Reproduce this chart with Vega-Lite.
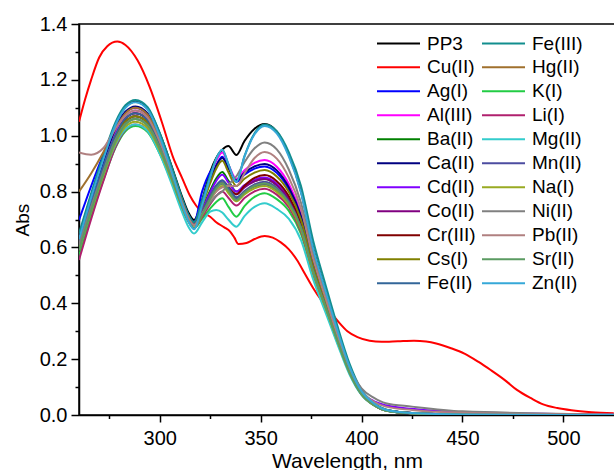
{
"$schema": "https://vega.github.io/schema/vega-lite/v6.json",
"width": 536, "height": 391,
"autosize": {"type": "none"},
"padding": {"left": 79, "top": 24, "right": 0, "bottom": 55},
"config": {"font": "Liberation Sans", "view": {"stroke": "black", "strokeWidth": 1.5}},
"data": {"values": [
{"s":"PP3","w":260,"v":0.640},{"s":"PP3","w":266,"v":0.785},{"s":"PP3","w":272,"v":0.920},{"s":"PP3","w":278,"v":1.040},{"s":"PP3","w":283,"v":1.103},{"s":"PP3","w":288,"v":1.122},{"s":"PP3","w":294,"v":1.097},{"s":"PP3","w":300,"v":1.008},{"s":"PP3","w":306,"v":0.889},{"s":"PP3","w":311,"v":0.783},{"s":"PP3","w":314,"v":0.728},{"s":"PP3","w":317,"v":0.698},{"s":"PP3","w":321,"v":0.770},{"s":"PP3","w":325,"v":0.870},{"s":"PP3","w":328,"v":0.920},{"s":"PP3","w":331,"v":0.950},{"s":"PP3","w":334,"v":0.963},{"s":"PP3","w":338,"v":0.931},{"s":"PP3","w":342,"v":0.981},{"s":"PP3","w":347,"v":1.025},{"s":"PP3","w":352,"v":1.042},{"s":"PP3","w":358,"v":1.015},{"s":"PP3","w":364,"v":0.931},{"s":"PP3","w":370,"v":0.800},{"s":"PP3","w":376,"v":0.600},{"s":"PP3","w":382,"v":0.450},{"s":"PP3","w":388,"v":0.305},{"s":"PP3","w":394,"v":0.175},{"s":"PP3","w":400,"v":0.085},{"s":"PP3","w":406,"v":0.042},{"s":"PP3","w":412,"v":0.019},{"s":"PP3","w":425,"v":0.007},{"s":"PP3","w":450,"v":0.002},{"s":"PP3","w":525,"v":0},
{"s":"Cu(II)","w":260,"v":1.050},{"s":"Cu(II)","w":263,"v":1.130},{"s":"Cu(II)","w":266,"v":1.200},{"s":"Cu(II)","w":270,"v":1.280},{"s":"Cu(II)","w":274,"v":1.320},{"s":"Cu(II)","w":279,"v":1.337},{"s":"Cu(II)","w":283,"v":1.325},{"s":"Cu(II)","w":289,"v":1.270},{"s":"Cu(II)","w":295,"v":1.175},{"s":"Cu(II)","w":301,"v":1.050},{"s":"Cu(II)","w":307,"v":0.915},{"s":"Cu(II)","w":311,"v":0.850},{"s":"Cu(II)","w":315,"v":0.785},{"s":"Cu(II)","w":318,"v":0.750},{"s":"Cu(II)","w":321,"v":0.725},{"s":"Cu(II)","w":325,"v":0.710},{"s":"Cu(II)","w":328,"v":0.690},{"s":"Cu(II)","w":332,"v":0.672},{"s":"Cu(II)","w":335,"v":0.656},{"s":"Cu(II)","w":337,"v":0.635},{"s":"Cu(II)","w":339,"v":0.612},{"s":"Cu(II)","w":343,"v":0.616},{"s":"Cu(II)","w":347,"v":0.630},{"s":"Cu(II)","w":352,"v":0.641},{"s":"Cu(II)","w":356,"v":0.635},{"s":"Cu(II)","w":360,"v":0.618},{"s":"Cu(II)","w":364,"v":0.593},{"s":"Cu(II)","w":368,"v":0.555},{"s":"Cu(II)","w":372,"v":0.505},{"s":"Cu(II)","w":376,"v":0.455},{"s":"Cu(II)","w":380,"v":0.412},{"s":"Cu(II)","w":384,"v":0.376},{"s":"Cu(II)","w":389,"v":0.330},{"s":"Cu(II)","w":393,"v":0.300},{"s":"Cu(II)","w":398,"v":0.279},{"s":"Cu(II)","w":404,"v":0.266},{"s":"Cu(II)","w":410,"v":0.262},{"s":"Cu(II)","w":418,"v":0.264},{"s":"Cu(II)","w":426,"v":0.266},{"s":"Cu(II)","w":432,"v":0.263},{"s":"Cu(II)","w":437,"v":0.256},{"s":"Cu(II)","w":444,"v":0.240},{"s":"Cu(II)","w":451,"v":0.220},{"s":"Cu(II)","w":458,"v":0.190},{"s":"Cu(II)","w":464,"v":0.161},{"s":"Cu(II)","w":471,"v":0.125},{"s":"Cu(II)","w":477,"v":0.090},{"s":"Cu(II)","w":484,"v":0.060},{"s":"Cu(II)","w":490,"v":0.038},{"s":"Cu(II)","w":497,"v":0.025},{"s":"Cu(II)","w":504,"v":0.017},{"s":"Cu(II)","w":514,"v":0.010},{"s":"Cu(II)","w":525,"v":0.006},
{"s":"Ag(I)","w":260,"v":0.698},{"s":"Ag(I)","w":266,"v":0.819},{"s":"Ag(I)","w":272,"v":0.931},{"s":"Ag(I)","w":278,"v":1.032},{"s":"Ag(I)","w":283,"v":1.084},{"s":"Ag(I)","w":288,"v":1.100},{"s":"Ag(I)","w":294,"v":1.075},{"s":"Ag(I)","w":300,"v":0.989},{"s":"Ag(I)","w":306,"v":0.875},{"s":"Ag(I)","w":311,"v":0.772},{"s":"Ag(I)","w":314,"v":0.719},{"s":"Ag(I)","w":317,"v":0.690},{"s":"Ag(I)","w":321,"v":0.800},{"s":"Ag(I)","w":325,"v":0.870},{"s":"Ag(I)","w":328,"v":0.895},{"s":"Ag(I)","w":331,"v":0.925},{"s":"Ag(I)","w":334,"v":0.890},{"s":"Ag(I)","w":338,"v":0.835},{"s":"Ag(I)","w":342,"v":0.860},{"s":"Ag(I)","w":347,"v":0.882},{"s":"Ag(I)","w":352,"v":0.890},{"s":"Ag(I)","w":358,"v":0.867},{"s":"Ag(I)","w":364,"v":0.808},{"s":"Ag(I)","w":370,"v":0.707},{"s":"Ag(I)","w":376,"v":0.539},{"s":"Ag(I)","w":382,"v":0.407},{"s":"Ag(I)","w":388,"v":0.279},{"s":"Ag(I)","w":394,"v":0.160},{"s":"Ag(I)","w":400,"v":0.078},{"s":"Ag(I)","w":406,"v":0.038},{"s":"Ag(I)","w":412,"v":0.017},{"s":"Ag(I)","w":425,"v":0.007},{"s":"Ag(I)","w":450,"v":0.002},{"s":"Ag(I)","w":525,"v":0},
{"s":"Al(III)","w":260,"v":0.620},{"s":"Al(III)","w":266,"v":0.761},{"s":"Al(III)","w":272,"v":0.893},{"s":"Al(III)","w":278,"v":1.010},{"s":"Al(III)","w":283,"v":1.071},{"s":"Al(III)","w":288,"v":1.090},{"s":"Al(III)","w":294,"v":1.066},{"s":"Al(III)","w":300,"v":0.981},{"s":"Al(III)","w":306,"v":0.867},{"s":"Al(III)","w":311,"v":0.766},{"s":"Al(III)","w":314,"v":0.713},{"s":"Al(III)","w":317,"v":0.685},{"s":"Al(III)","w":321,"v":0.762},{"s":"Al(III)","w":325,"v":0.851},{"s":"Al(III)","w":328,"v":0.909},{"s":"Al(III)","w":331,"v":0.940},{"s":"Al(III)","w":334,"v":0.897},{"s":"Al(III)","w":338,"v":0.845},{"s":"Al(III)","w":342,"v":0.876},{"s":"Al(III)","w":347,"v":0.903},{"s":"Al(III)","w":352,"v":0.913},{"s":"Al(III)","w":358,"v":0.889},{"s":"Al(III)","w":364,"v":0.827},{"s":"Al(III)","w":370,"v":0.721},{"s":"Al(III)","w":376,"v":0.548},{"s":"Al(III)","w":382,"v":0.414},{"s":"Al(III)","w":388,"v":0.283},{"s":"Al(III)","w":394,"v":0.162},{"s":"Al(III)","w":400,"v":0.079},{"s":"Al(III)","w":406,"v":0.039},{"s":"Al(III)","w":412,"v":0.017},{"s":"Al(III)","w":425,"v":0.007},{"s":"Al(III)","w":450,"v":0.002},{"s":"Al(III)","w":525,"v":0},
{"s":"Ba(II)","w":260,"v":0.600},{"s":"Ba(II)","w":266,"v":0.741},{"s":"Ba(II)","w":272,"v":0.873},{"s":"Ba(II)","w":278,"v":0.990},{"s":"Ba(II)","w":283,"v":1.051},{"s":"Ba(II)","w":288,"v":1.070},{"s":"Ba(II)","w":294,"v":1.047},{"s":"Ba(II)","w":300,"v":0.965},{"s":"Ba(II)","w":306,"v":0.856},{"s":"Ba(II)","w":311,"v":0.758},{"s":"Ba(II)","w":314,"v":0.707},{"s":"Ba(II)","w":317,"v":0.680},{"s":"Ba(II)","w":321,"v":0.737},{"s":"Ba(II)","w":325,"v":0.804},{"s":"Ba(II)","w":328,"v":0.847},{"s":"Ba(II)","w":331,"v":0.870},{"s":"Ba(II)","w":334,"v":0.839},{"s":"Ba(II)","w":338,"v":0.800},{"s":"Ba(II)","w":342,"v":0.820},{"s":"Ba(II)","w":347,"v":0.838},{"s":"Ba(II)","w":352,"v":0.845},{"s":"Ba(II)","w":358,"v":0.823},{"s":"Ba(II)","w":364,"v":0.772},{"s":"Ba(II)","w":370,"v":0.679},{"s":"Ba(II)","w":376,"v":0.521},{"s":"Ba(II)","w":382,"v":0.395},{"s":"Ba(II)","w":388,"v":0.271},{"s":"Ba(II)","w":394,"v":0.155},{"s":"Ba(II)","w":400,"v":0.076},{"s":"Ba(II)","w":406,"v":0.037},{"s":"Ba(II)","w":412,"v":0.017},{"s":"Ba(II)","w":425,"v":0.006},{"s":"Ba(II)","w":450,"v":0.002},{"s":"Ba(II)","w":525,"v":0},
{"s":"Ca(II)","w":260,"v":0.630},{"s":"Ca(II)","w":266,"v":0.773},{"s":"Ca(II)","w":272,"v":0.906},{"s":"Ca(II)","w":278,"v":1.024},{"s":"Ca(II)","w":283,"v":1.086},{"s":"Ca(II)","w":288,"v":1.105},{"s":"Ca(II)","w":294,"v":1.080},{"s":"Ca(II)","w":300,"v":0.993},{"s":"Ca(II)","w":306,"v":0.877},{"s":"Ca(II)","w":311,"v":0.773},{"s":"Ca(II)","w":314,"v":0.719},{"s":"Ca(II)","w":317,"v":0.690},{"s":"Ca(II)","w":321,"v":0.759},{"s":"Ca(II)","w":325,"v":0.840},{"s":"Ca(II)","w":328,"v":0.892},{"s":"Ca(II)","w":331,"v":0.920},{"s":"Ca(II)","w":334,"v":0.884},{"s":"Ca(II)","w":338,"v":0.840},{"s":"Ca(II)","w":342,"v":0.867},{"s":"Ca(II)","w":347,"v":0.890},{"s":"Ca(II)","w":352,"v":0.899},{"s":"Ca(II)","w":358,"v":0.876},{"s":"Ca(II)","w":364,"v":0.815},{"s":"Ca(II)","w":370,"v":0.713},{"s":"Ca(II)","w":376,"v":0.543},{"s":"Ca(II)","w":382,"v":0.410},{"s":"Ca(II)","w":388,"v":0.280},{"s":"Ca(II)","w":394,"v":0.161},{"s":"Ca(II)","w":400,"v":0.078},{"s":"Ca(II)","w":406,"v":0.038},{"s":"Ca(II)","w":412,"v":0.017},{"s":"Ca(II)","w":425,"v":0.007},{"s":"Ca(II)","w":450,"v":0.002},{"s":"Ca(II)","w":525,"v":0},
{"s":"Cd(II)","w":260,"v":0.610},{"s":"Cd(II)","w":266,"v":0.751},{"s":"Cd(II)","w":272,"v":0.883},{"s":"Cd(II)","w":278,"v":1.000},{"s":"Cd(II)","w":283,"v":1.061},{"s":"Cd(II)","w":288,"v":1.080},{"s":"Cd(II)","w":294,"v":1.056},{"s":"Cd(II)","w":300,"v":0.972},{"s":"Cd(II)","w":306,"v":0.860},{"s":"Cd(II)","w":311,"v":0.760},{"s":"Cd(II)","w":314,"v":0.708},{"s":"Cd(II)","w":317,"v":0.680},{"s":"Cd(II)","w":321,"v":0.734},{"s":"Cd(II)","w":325,"v":0.797},{"s":"Cd(II)","w":328,"v":0.838},{"s":"Cd(II)","w":331,"v":0.860},{"s":"Cd(II)","w":334,"v":0.833},{"s":"Cd(II)","w":338,"v":0.800},{"s":"Cd(II)","w":342,"v":0.823},{"s":"Cd(II)","w":347,"v":0.843},{"s":"Cd(II)","w":352,"v":0.850},{"s":"Cd(II)","w":358,"v":0.828},{"s":"Cd(II)","w":364,"v":0.776},{"s":"Cd(II)","w":370,"v":0.682},{"s":"Cd(II)","w":376,"v":0.523},{"s":"Cd(II)","w":382,"v":0.396},{"s":"Cd(II)","w":388,"v":0.272},{"s":"Cd(II)","w":394,"v":0.156},{"s":"Cd(II)","w":400,"v":0.080},{"s":"Cd(II)","w":406,"v":0.050},{"s":"Cd(II)","w":412,"v":0.035},{"s":"Cd(II)","w":425,"v":0.022},{"s":"Cd(II)","w":450,"v":0.010},{"s":"Cd(II)","w":525,"v":0.002},
{"s":"Co(II)","w":260,"v":0.600},{"s":"Co(II)","w":266,"v":0.741},{"s":"Co(II)","w":272,"v":0.873},{"s":"Co(II)","w":278,"v":0.990},{"s":"Co(II)","w":283,"v":1.051},{"s":"Co(II)","w":288,"v":1.070},{"s":"Co(II)","w":294,"v":1.047},{"s":"Co(II)","w":300,"v":0.965},{"s":"Co(II)","w":306,"v":0.856},{"s":"Co(II)","w":311,"v":0.758},{"s":"Co(II)","w":314,"v":0.707},{"s":"Co(II)","w":317,"v":0.680},{"s":"Co(II)","w":321,"v":0.728},{"s":"Co(II)","w":325,"v":0.784},{"s":"Co(II)","w":328,"v":0.821},{"s":"Co(II)","w":331,"v":0.840},{"s":"Co(II)","w":334,"v":0.818},{"s":"Co(II)","w":338,"v":0.790},{"s":"Co(II)","w":342,"v":0.815},{"s":"Co(II)","w":347,"v":0.837},{"s":"Co(II)","w":352,"v":0.845},{"s":"Co(II)","w":358,"v":0.823},{"s":"Co(II)","w":364,"v":0.772},{"s":"Co(II)","w":370,"v":0.679},{"s":"Co(II)","w":376,"v":0.521},{"s":"Co(II)","w":382,"v":0.395},{"s":"Co(II)","w":388,"v":0.271},{"s":"Co(II)","w":394,"v":0.155},{"s":"Co(II)","w":400,"v":0.076},{"s":"Co(II)","w":406,"v":0.037},{"s":"Co(II)","w":412,"v":0.017},{"s":"Co(II)","w":425,"v":0.006},{"s":"Co(II)","w":450,"v":0.002},{"s":"Co(II)","w":525,"v":0},
{"s":"Cr(III)","w":260,"v":0.600},{"s":"Cr(III)","w":266,"v":0.744},{"s":"Cr(III)","w":272,"v":0.878},{"s":"Cr(III)","w":278,"v":0.998},{"s":"Cr(III)","w":283,"v":1.061},{"s":"Cr(III)","w":288,"v":1.080},{"s":"Cr(III)","w":294,"v":1.056},{"s":"Cr(III)","w":300,"v":0.972},{"s":"Cr(III)","w":306,"v":0.860},{"s":"Cr(III)","w":311,"v":0.760},{"s":"Cr(III)","w":314,"v":0.708},{"s":"Cr(III)","w":317,"v":0.680},{"s":"Cr(III)","w":321,"v":0.725},{"s":"Cr(III)","w":325,"v":0.778},{"s":"Cr(III)","w":328,"v":0.812},{"s":"Cr(III)","w":331,"v":0.830},{"s":"Cr(III)","w":334,"v":0.812},{"s":"Cr(III)","w":338,"v":0.790},{"s":"Cr(III)","w":342,"v":0.821},{"s":"Cr(III)","w":347,"v":0.849},{"s":"Cr(III)","w":352,"v":0.859},{"s":"Cr(III)","w":358,"v":0.837},{"s":"Cr(III)","w":364,"v":0.783},{"s":"Cr(III)","w":370,"v":0.688},{"s":"Cr(III)","w":376,"v":0.526},{"s":"Cr(III)","w":382,"v":0.399},{"s":"Cr(III)","w":388,"v":0.273},{"s":"Cr(III)","w":394,"v":0.157},{"s":"Cr(III)","w":400,"v":0.076},{"s":"Cr(III)","w":406,"v":0.037},{"s":"Cr(III)","w":412,"v":0.017},{"s":"Cr(III)","w":425,"v":0.007},{"s":"Cr(III)","w":450,"v":0.002},{"s":"Cr(III)","w":525,"v":0},
{"s":"Cs(I)","w":260,"v":0.600},{"s":"Cs(I)","w":266,"v":0.741},{"s":"Cs(I)","w":272,"v":0.873},{"s":"Cs(I)","w":278,"v":0.990},{"s":"Cs(I)","w":283,"v":1.051},{"s":"Cs(I)","w":288,"v":1.070},{"s":"Cs(I)","w":294,"v":1.047},{"s":"Cs(I)","w":300,"v":0.965},{"s":"Cs(I)","w":306,"v":0.856},{"s":"Cs(I)","w":311,"v":0.758},{"s":"Cs(I)","w":314,"v":0.707},{"s":"Cs(I)","w":317,"v":0.680},{"s":"Cs(I)","w":321,"v":0.749},{"s":"Cs(I)","w":325,"v":0.830},{"s":"Cs(I)","w":328,"v":0.882},{"s":"Cs(I)","w":331,"v":0.910},{"s":"Cs(I)","w":334,"v":0.870},{"s":"Cs(I)","w":338,"v":0.820},{"s":"Cs(I)","w":342,"v":0.846},{"s":"Cs(I)","w":347,"v":0.868},{"s":"Cs(I)","w":352,"v":0.877},{"s":"Cs(I)","w":358,"v":0.854},{"s":"Cs(I)","w":364,"v":0.798},{"s":"Cs(I)","w":370,"v":0.699},{"s":"Cs(I)","w":376,"v":0.534},{"s":"Cs(I)","w":382,"v":0.404},{"s":"Cs(I)","w":388,"v":0.276},{"s":"Cs(I)","w":394,"v":0.158},{"s":"Cs(I)","w":400,"v":0.077},{"s":"Cs(I)","w":406,"v":0.038},{"s":"Cs(I)","w":412,"v":0.017},{"s":"Cs(I)","w":425,"v":0.007},{"s":"Cs(I)","w":450,"v":0.002},{"s":"Cs(I)","w":525,"v":0},
{"s":"Fe(II)","w":260,"v":0.620},{"s":"Fe(II)","w":266,"v":0.758},{"s":"Fe(II)","w":272,"v":0.887},{"s":"Fe(II)","w":278,"v":1.002},{"s":"Fe(II)","w":283,"v":1.062},{"s":"Fe(II)","w":288,"v":1.080},{"s":"Fe(II)","w":294,"v":1.056},{"s":"Fe(II)","w":300,"v":0.972},{"s":"Fe(II)","w":306,"v":0.860},{"s":"Fe(II)","w":311,"v":0.760},{"s":"Fe(II)","w":314,"v":0.708},{"s":"Fe(II)","w":317,"v":0.680},{"s":"Fe(II)","w":321,"v":0.728},{"s":"Fe(II)","w":325,"v":0.784},{"s":"Fe(II)","w":328,"v":0.821},{"s":"Fe(II)","w":331,"v":0.840},{"s":"Fe(II)","w":334,"v":0.813},{"s":"Fe(II)","w":338,"v":0.780},{"s":"Fe(II)","w":342,"v":0.800},{"s":"Fe(II)","w":347,"v":0.818},{"s":"Fe(II)","w":352,"v":0.825},{"s":"Fe(II)","w":358,"v":0.804},{"s":"Fe(II)","w":364,"v":0.756},{"s":"Fe(II)","w":370,"v":0.667},{"s":"Fe(II)","w":376,"v":0.513},{"s":"Fe(II)","w":382,"v":0.389},{"s":"Fe(II)","w":388,"v":0.267},{"s":"Fe(II)","w":394,"v":0.153},{"s":"Fe(II)","w":400,"v":0.075},{"s":"Fe(II)","w":406,"v":0.036},{"s":"Fe(II)","w":412,"v":0.016},{"s":"Fe(II)","w":425,"v":0.006},{"s":"Fe(II)","w":450,"v":0.002},{"s":"Fe(II)","w":525,"v":0},
{"s":"Fe(III)","w":260,"v":0.650},{"s":"Fe(III)","w":266,"v":0.793},{"s":"Fe(III)","w":272,"v":0.927},{"s":"Fe(III)","w":278,"v":1.047},{"s":"Fe(III)","w":283,"v":1.109},{"s":"Fe(III)","w":288,"v":1.128},{"s":"Fe(III)","w":294,"v":1.102},{"s":"Fe(III)","w":300,"v":1.010},{"s":"Fe(III)","w":306,"v":0.887},{"s":"Fe(III)","w":311,"v":0.778},{"s":"Fe(III)","w":314,"v":0.721},{"s":"Fe(III)","w":317,"v":0.690},{"s":"Fe(III)","w":321,"v":0.768},{"s":"Fe(III)","w":325,"v":0.859},{"s":"Fe(III)","w":328,"v":0.919},{"s":"Fe(III)","w":331,"v":0.950},{"s":"Fe(III)","w":334,"v":0.898},{"s":"Fe(III)","w":338,"v":0.835},{"s":"Fe(III)","w":342,"v":0.927},{"s":"Fe(III)","w":347,"v":1.009},{"s":"Fe(III)","w":352,"v":1.040},{"s":"Fe(III)","w":358,"v":1.016},{"s":"Fe(III)","w":364,"v":0.940},{"s":"Fe(III)","w":370,"v":0.820},{"s":"Fe(III)","w":376,"v":0.625},{"s":"Fe(III)","w":382,"v":0.470},{"s":"Fe(III)","w":388,"v":0.320},{"s":"Fe(III)","w":394,"v":0.185},{"s":"Fe(III)","w":400,"v":0.090},{"s":"Fe(III)","w":406,"v":0.044},{"s":"Fe(III)","w":412,"v":0.020},{"s":"Fe(III)","w":425,"v":0.007},{"s":"Fe(III)","w":450,"v":0.002},{"s":"Fe(III)","w":525,"v":0},
{"s":"Hg(II)","w":260,"v":0.800},{"s":"Hg(II)","w":266,"v":0.865},{"s":"Hg(II)","w":272,"v":0.940},{"s":"Hg(II)","w":278,"v":1.025},{"s":"Hg(II)","w":283,"v":1.080},{"s":"Hg(II)","w":288,"v":1.100},{"s":"Hg(II)","w":294,"v":1.075},{"s":"Hg(II)","w":300,"v":0.987},{"s":"Hg(II)","w":306,"v":0.869},{"s":"Hg(II)","w":311,"v":0.764},{"s":"Hg(II)","w":314,"v":0.709},{"s":"Hg(II)","w":317,"v":0.680},{"s":"Hg(II)","w":321,"v":0.725},{"s":"Hg(II)","w":325,"v":0.778},{"s":"Hg(II)","w":328,"v":0.812},{"s":"Hg(II)","w":331,"v":0.830},{"s":"Hg(II)","w":334,"v":0.803},{"s":"Hg(II)","w":338,"v":0.770},{"s":"Hg(II)","w":342,"v":0.797},{"s":"Hg(II)","w":347,"v":0.821},{"s":"Hg(II)","w":352,"v":0.830},{"s":"Hg(II)","w":358,"v":0.808},{"s":"Hg(II)","w":364,"v":0.760},{"s":"Hg(II)","w":370,"v":0.670},{"s":"Hg(II)","w":376,"v":0.515},{"s":"Hg(II)","w":382,"v":0.391},{"s":"Hg(II)","w":388,"v":0.268},{"s":"Hg(II)","w":394,"v":0.154},{"s":"Hg(II)","w":400,"v":0.075},{"s":"Hg(II)","w":406,"v":0.037},{"s":"Hg(II)","w":412,"v":0.016},{"s":"Hg(II)","w":425,"v":0.006},{"s":"Hg(II)","w":450,"v":0.002},{"s":"Hg(II)","w":525,"v":0},
{"s":"K(I)","w":260,"v":0.570},{"s":"K(I)","w":266,"v":0.710},{"s":"K(I)","w":272,"v":0.840},{"s":"K(I)","w":278,"v":0.956},{"s":"K(I)","w":283,"v":1.016},{"s":"K(I)","w":288,"v":1.035},{"s":"K(I)","w":294,"v":1.013},{"s":"K(I)","w":300,"v":0.936},{"s":"K(I)","w":306,"v":0.834},{"s":"K(I)","w":311,"v":0.743},{"s":"K(I)","w":314,"v":0.696},{"s":"K(I)","w":317,"v":0.670},{"s":"K(I)","w":321,"v":0.702},{"s":"K(I)","w":325,"v":0.739},{"s":"K(I)","w":328,"v":0.763},{"s":"K(I)","w":331,"v":0.776},{"s":"K(I)","w":334,"v":0.746},{"s":"K(I)","w":338,"v":0.710},{"s":"K(I)","w":342,"v":0.748},{"s":"K(I)","w":347,"v":0.781},{"s":"K(I)","w":352,"v":0.794},{"s":"K(I)","w":358,"v":0.773},{"s":"K(I)","w":364,"v":0.731},{"s":"K(I)","w":370,"v":0.648},{"s":"K(I)","w":376,"v":0.500},{"s":"K(I)","w":382,"v":0.381},{"s":"K(I)","w":388,"v":0.262},{"s":"K(I)","w":394,"v":0.150},{"s":"K(I)","w":400,"v":0.073},{"s":"K(I)","w":406,"v":0.036},{"s":"K(I)","w":412,"v":0.016},{"s":"K(I)","w":425,"v":0.006},{"s":"K(I)","w":450,"v":0.002},{"s":"K(I)","w":525,"v":0},
{"s":"Li(I)","w":260,"v":0.555},{"s":"Li(I)","w":266,"v":0.701},{"s":"Li(I)","w":272,"v":0.836},{"s":"Li(I)","w":278,"v":0.958},{"s":"Li(I)","w":283,"v":1.021},{"s":"Li(I)","w":288,"v":1.040},{"s":"Li(I)","w":294,"v":1.018},{"s":"Li(I)","w":300,"v":0.940},{"s":"Li(I)","w":306,"v":0.837},{"s":"Li(I)","w":311,"v":0.744},{"s":"Li(I)","w":314,"v":0.696},{"s":"Li(I)","w":317,"v":0.670},{"s":"Li(I)","w":321,"v":0.709},{"s":"Li(I)","w":325,"v":0.755},{"s":"Li(I)","w":328,"v":0.784},{"s":"Li(I)","w":331,"v":0.800},{"s":"Li(I)","w":334,"v":0.778},{"s":"Li(I)","w":338,"v":0.750},{"s":"Li(I)","w":342,"v":0.777},{"s":"Li(I)","w":347,"v":0.801},{"s":"Li(I)","w":352,"v":0.810},{"s":"Li(I)","w":358,"v":0.789},{"s":"Li(I)","w":364,"v":0.744},{"s":"Li(I)","w":370,"v":0.657},{"s":"Li(I)","w":376,"v":0.507},{"s":"Li(I)","w":382,"v":0.385},{"s":"Li(I)","w":388,"v":0.265},{"s":"Li(I)","w":394,"v":0.152},{"s":"Li(I)","w":400,"v":0.074},{"s":"Li(I)","w":406,"v":0.036},{"s":"Li(I)","w":412,"v":0.016},{"s":"Li(I)","w":425,"v":0.006},{"s":"Li(I)","w":450,"v":0.002},{"s":"Li(I)","w":525,"v":0},
{"s":"Mg(II)","w":260,"v":0.610},{"s":"Mg(II)","w":266,"v":0.739},{"s":"Mg(II)","w":272,"v":0.859},{"s":"Mg(II)","w":278,"v":0.967},{"s":"Mg(II)","w":283,"v":1.023},{"s":"Mg(II)","w":288,"v":1.040},{"s":"Mg(II)","w":294,"v":1.017},{"s":"Mg(II)","w":300,"v":0.935},{"s":"Mg(II)","w":306,"v":0.826},{"s":"Mg(II)","w":311,"v":0.728},{"s":"Mg(II)","w":314,"v":0.677},{"s":"Mg(II)","w":317,"v":0.650},{"s":"Mg(II)","w":321,"v":0.690},{"s":"Mg(II)","w":325,"v":0.728},{"s":"Mg(II)","w":328,"v":0.734},{"s":"Mg(II)","w":331,"v":0.725},{"s":"Mg(II)","w":334,"v":0.700},{"s":"Mg(II)","w":338,"v":0.674},{"s":"Mg(II)","w":342,"v":0.712},{"s":"Mg(II)","w":347,"v":0.745},{"s":"Mg(II)","w":352,"v":0.758},{"s":"Mg(II)","w":358,"v":0.738},{"s":"Mg(II)","w":364,"v":0.702},{"s":"Mg(II)","w":370,"v":0.626},{"s":"Mg(II)","w":376,"v":0.486},{"s":"Mg(II)","w":382,"v":0.370},{"s":"Mg(II)","w":388,"v":0.255},{"s":"Mg(II)","w":394,"v":0.146},{"s":"Mg(II)","w":400,"v":0.072},{"s":"Mg(II)","w":406,"v":0.035},{"s":"Mg(II)","w":412,"v":0.016},{"s":"Mg(II)","w":425,"v":0.006},{"s":"Mg(II)","w":450,"v":0.002},{"s":"Mg(II)","w":525,"v":0},
{"s":"Mn(II)","w":260,"v":0.610},{"s":"Mn(II)","w":266,"v":0.745},{"s":"Mn(II)","w":272,"v":0.871},{"s":"Mn(II)","w":278,"v":0.984},{"s":"Mn(II)","w":283,"v":1.042},{"s":"Mn(II)","w":288,"v":1.060},{"s":"Mn(II)","w":294,"v":1.037},{"s":"Mn(II)","w":300,"v":0.957},{"s":"Mn(II)","w":306,"v":0.851},{"s":"Mn(II)","w":311,"v":0.756},{"s":"Mn(II)","w":314,"v":0.707},{"s":"Mn(II)","w":317,"v":0.680},{"s":"Mn(II)","w":321,"v":0.725},{"s":"Mn(II)","w":325,"v":0.778},{"s":"Mn(II)","w":328,"v":0.812},{"s":"Mn(II)","w":331,"v":0.830},{"s":"Mn(II)","w":334,"v":0.805},{"s":"Mn(II)","w":338,"v":0.775},{"s":"Mn(II)","w":342,"v":0.802},{"s":"Mn(II)","w":347,"v":0.826},{"s":"Mn(II)","w":352,"v":0.835},{"s":"Mn(II)","w":358,"v":0.813},{"s":"Mn(II)","w":364,"v":0.764},{"s":"Mn(II)","w":370,"v":0.673},{"s":"Mn(II)","w":376,"v":0.517},{"s":"Mn(II)","w":382,"v":0.392},{"s":"Mn(II)","w":388,"v":0.269},{"s":"Mn(II)","w":394,"v":0.154},{"s":"Mn(II)","w":400,"v":0.075},{"s":"Mn(II)","w":406,"v":0.037},{"s":"Mn(II)","w":412,"v":0.017},{"s":"Mn(II)","w":425,"v":0.006},{"s":"Mn(II)","w":450,"v":0.002},{"s":"Mn(II)","w":525,"v":0},
{"s":"Na(I)","w":260,"v":0.590},{"s":"Na(I)","w":266,"v":0.728},{"s":"Na(I)","w":272,"v":0.857},{"s":"Na(I)","w":278,"v":0.972},{"s":"Na(I)","w":283,"v":1.032},{"s":"Na(I)","w":288,"v":1.050},{"s":"Na(I)","w":294,"v":1.027},{"s":"Na(I)","w":300,"v":0.947},{"s":"Na(I)","w":306,"v":0.841},{"s":"Na(I)","w":311,"v":0.746},{"s":"Na(I)","w":314,"v":0.697},{"s":"Na(I)","w":317,"v":0.670},{"s":"Na(I)","w":321,"v":0.715},{"s":"Na(I)","w":325,"v":0.768},{"s":"Na(I)","w":328,"v":0.802},{"s":"Na(I)","w":331,"v":0.820},{"s":"Na(I)","w":334,"v":0.795},{"s":"Na(I)","w":338,"v":0.765},{"s":"Na(I)","w":342,"v":0.790},{"s":"Na(I)","w":347,"v":0.812},{"s":"Na(I)","w":352,"v":0.820},{"s":"Na(I)","w":358,"v":0.799},{"s":"Na(I)","w":364,"v":0.752},{"s":"Na(I)","w":370,"v":0.664},{"s":"Na(I)","w":376,"v":0.511},{"s":"Na(I)","w":382,"v":0.388},{"s":"Na(I)","w":388,"v":0.266},{"s":"Na(I)","w":394,"v":0.153},{"s":"Na(I)","w":400,"v":0.075},{"s":"Na(I)","w":406,"v":0.036},{"s":"Na(I)","w":412,"v":0.016},{"s":"Na(I)","w":425,"v":0.006},{"s":"Na(I)","w":450,"v":0.002},{"s":"Na(I)","w":525,"v":0},
{"s":"Ni(II)","w":260,"v":0.610},{"s":"Ni(II)","w":266,"v":0.745},{"s":"Ni(II)","w":272,"v":0.871},{"s":"Ni(II)","w":278,"v":0.984},{"s":"Ni(II)","w":283,"v":1.042},{"s":"Ni(II)","w":288,"v":1.060},{"s":"Ni(II)","w":294,"v":1.037},{"s":"Ni(II)","w":300,"v":0.957},{"s":"Ni(II)","w":306,"v":0.851},{"s":"Ni(II)","w":311,"v":0.756},{"s":"Ni(II)","w":314,"v":0.707},{"s":"Ni(II)","w":317,"v":0.680},{"s":"Ni(II)","w":321,"v":0.720},{"s":"Ni(II)","w":325,"v":0.760},{"s":"Ni(II)","w":328,"v":0.785},{"s":"Ni(II)","w":331,"v":0.800},{"s":"Ni(II)","w":334,"v":0.825},{"s":"Ni(II)","w":338,"v":0.855},{"s":"Ni(II)","w":342,"v":0.905},{"s":"Ni(II)","w":347,"v":0.955},{"s":"Ni(II)","w":352,"v":0.976},{"s":"Ni(II)","w":358,"v":0.951},{"s":"Ni(II)","w":364,"v":0.878},{"s":"Ni(II)","w":370,"v":0.760},{"s":"Ni(II)","w":376,"v":0.574},{"s":"Ni(II)","w":382,"v":0.432},{"s":"Ni(II)","w":388,"v":0.294},{"s":"Ni(II)","w":394,"v":0.170},{"s":"Ni(II)","w":400,"v":0.095},{"s":"Ni(II)","w":406,"v":0.062},{"s":"Ni(II)","w":412,"v":0.042},{"s":"Ni(II)","w":425,"v":0.030},{"s":"Ni(II)","w":450,"v":0.013},{"s":"Ni(II)","w":525,"v":0.002},
{"s":"Pb(II)","w":260,"v":0.940},{"s":"Pb(II)","w":266,"v":0.932},{"s":"Pb(II)","w":272,"v":0.955},{"s":"Pb(II)","w":278,"v":1.025},{"s":"Pb(II)","w":283,"v":1.072},{"s":"Pb(II)","w":288,"v":1.090},{"s":"Pb(II)","w":294,"v":1.065},{"s":"Pb(II)","w":300,"v":0.979},{"s":"Pb(II)","w":306,"v":0.865},{"s":"Pb(II)","w":311,"v":0.762},{"s":"Pb(II)","w":314,"v":0.709},{"s":"Pb(II)","w":317,"v":0.680},{"s":"Pb(II)","w":321,"v":0.720},{"s":"Pb(II)","w":325,"v":0.770},{"s":"Pb(II)","w":328,"v":0.800},{"s":"Pb(II)","w":331,"v":0.815},{"s":"Pb(II)","w":334,"v":0.820},{"s":"Pb(II)","w":338,"v":0.820},{"s":"Pb(II)","w":342,"v":0.865},{"s":"Pb(II)","w":347,"v":0.920},{"s":"Pb(II)","w":352,"v":0.942},{"s":"Pb(II)","w":358,"v":0.918},{"s":"Pb(II)","w":364,"v":0.850},{"s":"Pb(II)","w":370,"v":0.739},{"s":"Pb(II)","w":376,"v":0.560},{"s":"Pb(II)","w":382,"v":0.422},{"s":"Pb(II)","w":388,"v":0.288},{"s":"Pb(II)","w":394,"v":0.165},{"s":"Pb(II)","w":400,"v":0.085},{"s":"Pb(II)","w":406,"v":0.048},{"s":"Pb(II)","w":412,"v":0.030},{"s":"Pb(II)","w":425,"v":0.018},{"s":"Pb(II)","w":450,"v":0.008},{"s":"Pb(II)","w":525,"v":0.001},
{"s":"Sr(II)","w":260,"v":0.590},{"s":"Sr(II)","w":266,"v":0.731},{"s":"Sr(II)","w":272,"v":0.863},{"s":"Sr(II)","w":278,"v":0.980},{"s":"Sr(II)","w":283,"v":1.041},{"s":"Sr(II)","w":288,"v":1.060},{"s":"Sr(II)","w":294,"v":1.037},{"s":"Sr(II)","w":300,"v":0.955},{"s":"Sr(II)","w":306,"v":0.846},{"s":"Sr(II)","w":311,"v":0.748},{"s":"Sr(II)","w":314,"v":0.697},{"s":"Sr(II)","w":317,"v":0.670},{"s":"Sr(II)","w":321,"v":0.718},{"s":"Sr(II)","w":325,"v":0.774},{"s":"Sr(II)","w":328,"v":0.811},{"s":"Sr(II)","w":331,"v":0.830},{"s":"Sr(II)","w":334,"v":0.803},{"s":"Sr(II)","w":338,"v":0.770},{"s":"Sr(II)","w":342,"v":0.797},{"s":"Sr(II)","w":347,"v":0.821},{"s":"Sr(II)","w":352,"v":0.830},{"s":"Sr(II)","w":358,"v":0.808},{"s":"Sr(II)","w":364,"v":0.760},{"s":"Sr(II)","w":370,"v":0.670},{"s":"Sr(II)","w":376,"v":0.515},{"s":"Sr(II)","w":382,"v":0.391},{"s":"Sr(II)","w":388,"v":0.268},{"s":"Sr(II)","w":394,"v":0.154},{"s":"Sr(II)","w":400,"v":0.075},{"s":"Sr(II)","w":406,"v":0.037},{"s":"Sr(II)","w":412,"v":0.016},{"s":"Sr(II)","w":425,"v":0.006},{"s":"Sr(II)","w":450,"v":0.002},{"s":"Sr(II)","w":525,"v":0},
{"s":"Zn(II)","w":260,"v":0.630},{"s":"Zn(II)","w":266,"v":0.777},{"s":"Zn(II)","w":272,"v":0.914},{"s":"Zn(II)","w":278,"v":1.037},{"s":"Zn(II)","w":283,"v":1.100},{"s":"Zn(II)","w":288,"v":1.120},{"s":"Zn(II)","w":294,"v":1.093},{"s":"Zn(II)","w":300,"v":0.997},{"s":"Zn(II)","w":306,"v":0.870},{"s":"Zn(II)","w":311,"v":0.756},{"s":"Zn(II)","w":314,"v":0.697},{"s":"Zn(II)","w":317,"v":0.665},{"s":"Zn(II)","w":321,"v":0.751},{"s":"Zn(II)","w":325,"v":0.850},{"s":"Zn(II)","w":328,"v":0.916},{"s":"Zn(II)","w":331,"v":0.950},{"s":"Zn(II)","w":334,"v":0.898},{"s":"Zn(II)","w":338,"v":0.835},{"s":"Zn(II)","w":342,"v":0.925},{"s":"Zn(II)","w":347,"v":1.005},{"s":"Zn(II)","w":352,"v":1.035},{"s":"Zn(II)","w":358,"v":1.008},{"s":"Zn(II)","w":364,"v":0.925},{"s":"Zn(II)","w":370,"v":0.796},{"s":"Zn(II)","w":376,"v":0.597},{"s":"Zn(II)","w":382,"v":0.448},{"s":"Zn(II)","w":388,"v":0.304},{"s":"Zn(II)","w":394,"v":0.174},{"s":"Zn(II)","w":400,"v":0.085},{"s":"Zn(II)","w":406,"v":0.042},{"s":"Zn(II)","w":412,"v":0.019},{"s":"Zn(II)","w":425,"v":0.007},{"s":"Zn(II)","w":450,"v":0.002},{"s":"Zn(II)","w":525,"v":0}
]},
"mark": {"type": "line", "interpolate": "monotone", "strokeWidth": 2, "clip": true},
"encoding": {
  "x": {"field": "w", "type": "quantitative",
    "scale": {"domain": [260, 525.6], "nice": false, "zero": false},
    "axis": {"values": [275, 300, 325, 350, 375, 400, 425, 450, 475, 500],
      "labelExpr": "datum.value % 50 === 0 ? datum.label : ''",
      "tickSize": {"condition": {"test": "datum.value % 50 === 0", "value": 7}, "value": 3.5},
      "grid": false, "domainColor": "black", "domainWidth": 1.5, "tickColor": "black", "tickWidth": 1.5,
      "labelFont": "Liberation Sans", "labelFontSize": 20, "labelColor": "black", "labelPadding": 6, "labelFlush": false, "labelOverlap": false,
      "title": "Wavelength, nm", "titleFont": "Liberation Sans", "titleFontSize": 21, "titleFontWeight": "normal", "titleColor": "black",
      "titleBaseline": "alphabetic", "titleY": 52}},
  "y": {"field": "v", "type": "quantitative",
    "scale": {"domain": [0, 1.4], "nice": false},
    "axis": {"values": [0, 0.1, 0.2, 0.3, 0.4, 0.5, 0.6, 0.7, 0.8, 0.9, 1.0, 1.1, 1.2, 1.3, 1.4],
      "labelExpr": "round(datum.value*10) % 2 === 0 ? format(datum.value, '.1f') : ''",
      "tickSize": {"condition": {"test": "round(datum.value*10) % 2 === 0", "value": 8}, "value": 4},
      "grid": false, "domainColor": "black", "domainWidth": 1.5, "tickColor": "black", "tickWidth": 1.5,
      "labelFont": "Liberation Sans", "labelFontSize": 20, "labelColor": "black", "labelPadding": 4, "labelFlush": false, "labelOverlap": false,
      "title": "Abs", "titleFont": "Liberation Sans", "titleFontSize": 19, "titleFontWeight": "normal", "titleColor": "black",
      "titleBaseline": "alphabetic", "titleAngle": 270, "titleX": -51, "titleY": 195.5, "titleAlign": "center"}},
  "color": {"field": "s", "type": "nominal",
    "scale": {
      "domain": ["PP3","Cu(II)","Ag(I)","Al(III)","Ba(II)","Ca(II)","Cd(II)","Co(II)","Cr(III)","Cs(I)","Fe(II)","Fe(III)","Hg(II)","K(I)","Li(I)","Mg(II)","Mn(II)","Na(I)","Ni(II)","Pb(II)","Sr(II)","Zn(II)"],
      "range": ["#000000","#FF0000","#0000FF","#FF00FF","#008000","#000080","#8000FF","#800080","#800000","#808000","#336699","#128E8E","#A0702D","#22CC44","#B0206E","#33CCCC","#4C4CA0","#99AA22","#808080","#B08080","#5B9B62","#36A8D8"]},
    "legend": {"orient": "none", "legendX": 297, "legendY": 7.5, "title": null, "columns": 2,
      "symbolType": "stroke", "symbolSize": 1849, "symbolStrokeWidth": 2,
      "labelFont": "Liberation Sans", "labelFontSize": 19, "labelColor": "black", "labelOffset": 6, "labelLimit": 0,
      "clipHeight": 23.6, "rowPadding": 0, "columnPadding": 5, "padding": 0}}
}
}
